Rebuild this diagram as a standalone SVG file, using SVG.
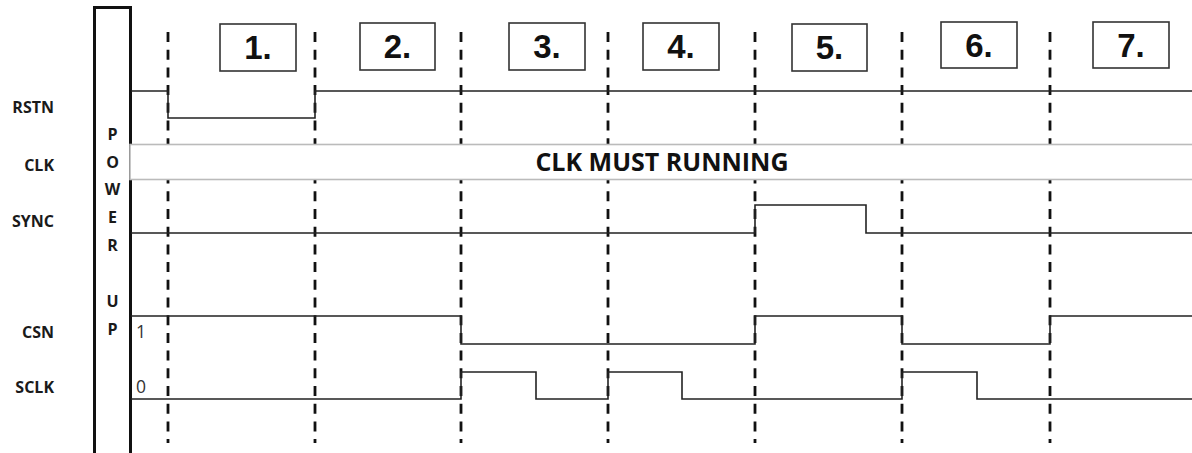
<svg xmlns="http://www.w3.org/2000/svg" width="1192" height="453" viewBox="0 0 1192 453">
<style>
.lbl{font-family:"Open Sans","Liberation Sans",sans-serif;font-weight:bold;font-size:16px;fill:#1a1a1a}
.num{font-family:"Liberation Sans",Arial,sans-serif;font-weight:bold;font-size:33px;fill:#111;text-anchor:middle}
.box{fill:#fff;stroke:#333;stroke-width:1.6}
.dash{stroke:#111;stroke-width:2.8;stroke-dasharray:10 7.7;fill:none}
.wave{stroke:#222;stroke-width:1.6;fill:none}
.pu{font-family:"Open Sans","Liberation Sans",sans-serif;font-weight:bold;font-size:16px;fill:#1a1a1a;text-anchor:middle}
.lvl{font-family:"Open Sans","Liberation Sans",sans-serif;font-size:17.5px;fill:#333}
</style>
<rect width="1192" height="453" fill="#fff"/>
<g id="powerup">
<path d="M94.5 460 V7.5 H130.5 V460" fill="none" stroke="#111" stroke-width="3"/>
<text class="pu" x="112.5" y="140">P</text>
<text class="pu" x="112.5" y="168">O</text>
<text class="pu" x="112.5" y="195">W</text>
<text class="pu" x="112.5" y="223">E</text>
<text class="pu" x="112.5" y="251">R</text>
<text class="pu" x="112.5" y="307">U</text>
<text class="pu" x="112.5" y="335">P</text>
</g>
<g id="signal-labels">
<text class="lbl" x="54" y="113" text-anchor="end">RSTN</text>
<text class="lbl" x="54" y="171" text-anchor="end">CLK</text>
<text class="lbl" x="54" y="227" text-anchor="end">SYNC</text>
<text class="lbl" x="54" y="338" text-anchor="end">CSN</text>
<text class="lbl" x="54" y="393" text-anchor="end">SCLK</text>
<text class="lvl" x="136" y="338">1</text>
<text class="lvl" x="136" y="393">0</text>
</g>
<g id="connectors">
<line class="dash" x1="168" y1="32" x2="168" y2="443"/>
<line class="dash" x1="315" y1="32" x2="315" y2="443"/>
<line class="dash" x1="461" y1="32" x2="461" y2="443"/>
<line class="dash" x1="608" y1="32" x2="608" y2="443"/>
<line class="dash" x1="755" y1="32" x2="755" y2="443"/>
<line class="dash" x1="902" y1="32" x2="902" y2="443"/>
<line class="dash" x1="1050" y1="32" x2="1050" y2="443"/>
</g>
<g id="clk">
<rect x="130" y="144.5" width="1070" height="35" fill="#fff" stroke="#bbb" stroke-width="1.6"/>
<text x="662" y="171" font-family="Open Sans, Liberation Sans, sans-serif" font-weight="bold" font-size="25" fill="#111" text-anchor="middle">CLK MUST RUNNING</text>
</g>
<g id="waves">
<path id="rstn" class="wave" d="M131 91 H168 V118 H315 V91 H1192"/>
<path id="sync" class="wave" d="M131 233 H755 V205 H866 V233 H1192"/>
<path id="csn" class="wave" d="M131 316 H461 V344 H755 V316 H902 V344 H1050 V316 H1192"/>
<path id="sclk" class="wave" d="M131 399 H461 V372 H536 V399 H608 V372 H682 V399 H902 V372 H977 V399 H1192"/>
</g>
<g id="steps">
<g id="step1"><rect class="box" x="220" y="24" width="76" height="47"/><text class="num" x="258" y="59">1.</text></g>
<g id="step2"><rect class="box" x="360" y="23" width="75" height="47"/><text class="num" x="397.5" y="58">2.</text></g>
<g id="step3"><rect class="box" x="509" y="23" width="76" height="47"/><text class="num" x="547" y="58">3.</text></g>
<g id="step4"><rect class="box" x="643" y="23" width="76" height="47"/><text class="num" x="681" y="58">4.</text></g>
<g id="step5"><rect class="box" x="792" y="24" width="75" height="47"/><text class="num" x="829.5" y="59">5.</text></g>
<g id="step6"><rect class="box" x="941" y="22" width="76" height="46"/><text class="num" x="979" y="57">6.</text></g>
<g id="step7"><rect class="box" x="1093" y="22" width="76" height="46"/><text class="num" x="1131" y="57">7.</text></g>
</g>
</svg>
